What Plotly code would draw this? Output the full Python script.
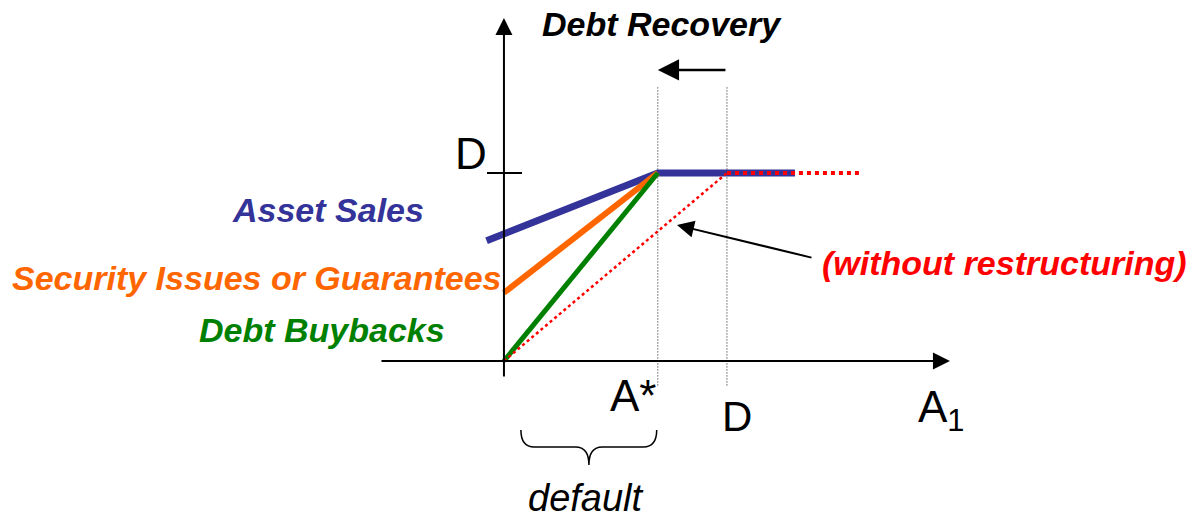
import plotly.graph_objects as go

# --- diagram values (x in units of D on the A1 axis, y in units of D) ---
D = 1.0
A_STAR = 0.69

ASSET_X = [-0.078, A_STAR, 1.305]
ASSET_Y = [0.64, D, D]
SECURITY_X = [0.0, A_STAR]
SECURITY_Y = [0.363, D]
BUYBACK_X = [0.0, A_STAR]
BUYBACK_Y = [0.0, D]
NORESTR_SLOPE_X = [0.0, D]
NORESTR_SLOPE_Y = [0.0, D]
NORESTR_FLAT_X = [D, 1.596]
NORESTR_FLAT_Y = [D, D]

GUIDE_X = [A_STAR, D]           # dotted verticals at A* and D
GUIDE_Y = [-0.13, 1.457]

BLUE = "#333399"; ORANGE = "#ff6600"; GREEN = "#008000"; RED = "#ff0000"; INK = "#000000"
FONT = "Arial, Liberation Sans, sans-serif"

fig = go.Figure()

for gx in GUIDE_X:
    fig.add_trace(go.Scatter(x=[gx, gx], y=GUIDE_Y, mode="lines",
                             line=dict(color="#111111", width=1, dash="1px,2px")))

fig.add_trace(go.Scatter(x=ASSET_X, y=ASSET_Y, mode="lines", line=dict(color=BLUE, width=7)))
fig.add_trace(go.Scatter(x=SECURITY_X, y=SECURITY_Y, mode="lines", line=dict(color=ORANGE, width=6)))
fig.add_trace(go.Scatter(x=BUYBACK_X, y=BUYBACK_Y, mode="lines", line=dict(color=GREEN, width=5)))
fig.add_trace(go.Scatter(x=NORESTR_SLOPE_X, y=NORESTR_SLOPE_Y, mode="lines",
                         line=dict(color=RED, width=2.5, dash="dot")))
fig.add_trace(go.Scatter(x=NORESTR_FLAT_X, y=NORESTR_FLAT_Y, mode="lines",
                         line=dict(color=RED, width=4, dash="dot")))

# tick mark for D on the vertical axis
fig.add_trace(go.Scatter(x=[-0.076, 0.081], y=[D, D], mode="lines", line=dict(color=INK, width=2)))

def arrow(x, y, ax, ay, width=2):
    fig.add_annotation(x=x, y=y, ax=ax, ay=ay, xref="x", yref="y", axref="x", ayref="y",
                       text="", showarrow=True, arrowhead=2, arrowsize=1.7,
                       arrowwidth=width, arrowcolor=INK, standoff=0)

arrow(0, 1.824, 0, -0.09)          # vertical axis
arrow(2.0, 0, -0.556, 0)           # horizontal axis
arrow(A_STAR, 1.548, D, 1.548, 2.5)  # debt recovery shift
arrow(0.776, 0.723, 1.386, 0.548)  # pointer to unrestructured payoff

def label(text, x, y, size, color=INK, bold=False, italic=False):
    fig.add_annotation(x=x, y=y, xref="x", yref="y", text=text, showarrow=False,
                       xanchor="center", yanchor="middle",
                       font=dict(family=FONT, size=size, color=color,
                                 weight="bold" if bold else "normal",
                                 style="italic" if italic else "normal"))

label("Debt Recovery", 0.711, 1.795, 34, bold=True, italic=True)
label("Asset Sales", -0.789, 0.803, 34, BLUE, True, True)
label("Security Issues or Guarantees", -1.108, 0.439, 34, ORANGE, True, True)
label("Debt Buybacks", -0.814, 0.165, 34, GREEN, True, True)
label("(without restructuring)", 2.244, 0.519, 34, RED, True, True)
label("D", -0.148, 1.104, 44)
label("A*", 0.578, -0.181, 44)
label("D", 1.047, -0.293, 42)
label("A<sub>1</sub>", 1.964, -0.26, 44)
label("default", 0.368, -0.729, 38, italic=True)

# curly brace under the default region [0, A*]
bx0, bx1, bxc = 0.076, A_STAR - 0.005, 0.381
by_top, by_mid, by_tip = -0.367, -0.457, -0.553
r = 0.06
brace = (f"M {bx0},{by_top} Q {bx0},{by_mid} {bx0 + r},{by_mid} "
         f"L {bxc - r},{by_mid} Q {bxc},{by_mid} {bxc},{by_tip} "
         f"Q {bxc},{by_mid} {bxc + r},{by_mid} "
         f"L {bx1 - r},{by_mid} Q {bx1},{by_mid} {bx1},{by_top}")
fig.add_shape(type="path", path=brace, xref="x", yref="y", line=dict(color=INK, width=1.5))

fig.update_layout(width=1199, height=518, margin=dict(l=0, r=0, t=0, b=0),
                  paper_bgcolor="white", plot_bgcolor="white", showlegend=False)
fig.update_xaxes(range=[-2.26, 3.117], visible=False)
fig.update_yaxes(range=[-0.835, 1.920], visible=False)

fig.write_html("out.html", config={"displayModeBar": False},
               post_script="document.body.style.margin='0';")
